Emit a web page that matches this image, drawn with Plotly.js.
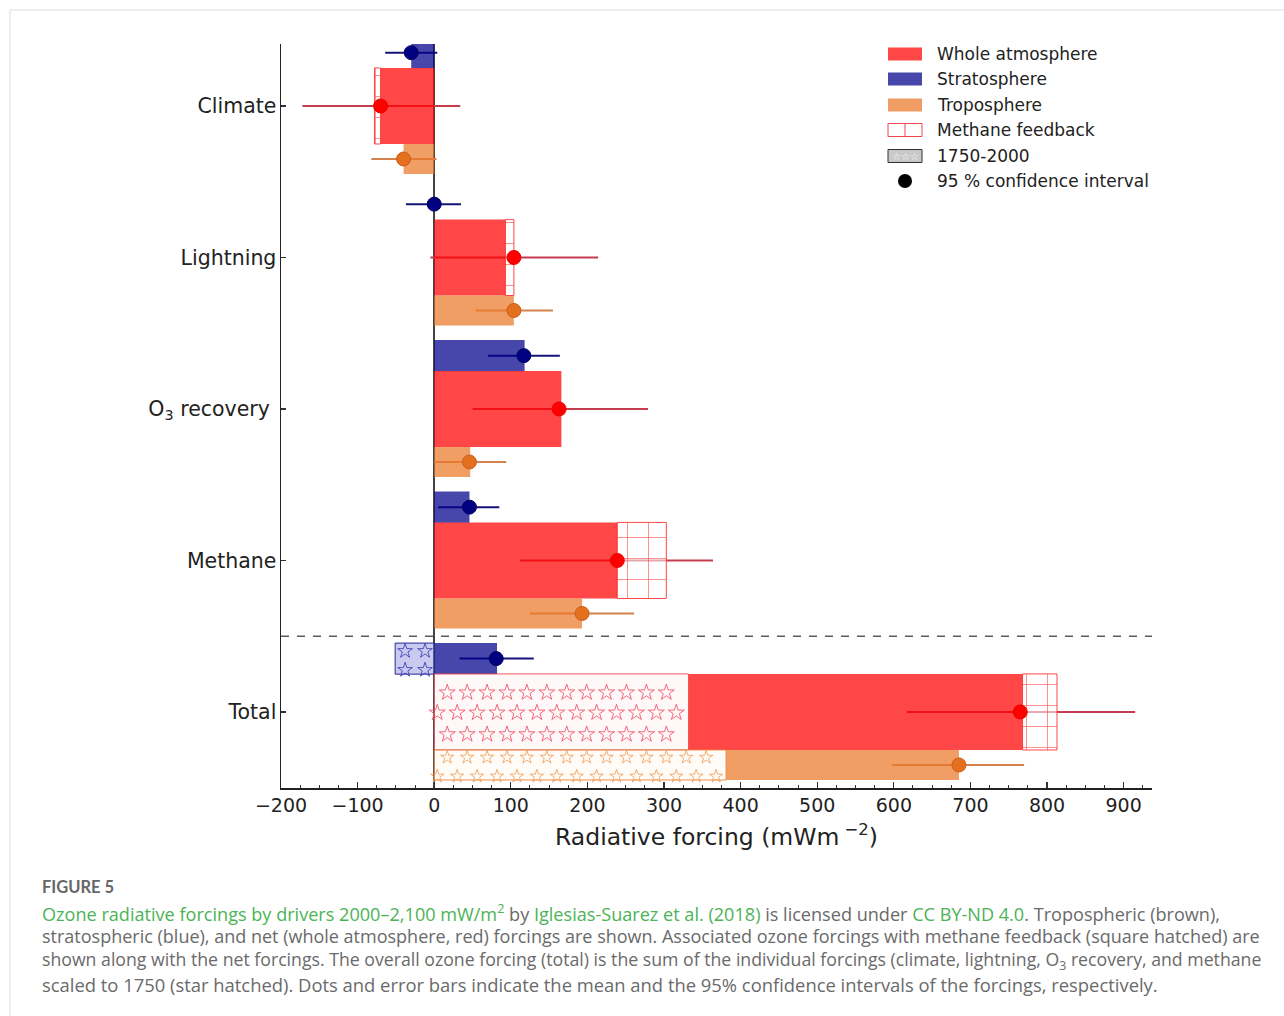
<!DOCTYPE html>
<html>
<head>
<meta charset="utf-8">
<script src="https://cdn.plot.ly/plotly-3.0.1.min.js"></script>
<style>html,body{margin:0;padding:0;background:#fff;}#chart{width:1284px;height:1016px;}</style>
</head>
<body>
<div id="chart"></div>
<script>
// ---------- data (mWm-2) ----------
const categories = ['Climate', 'Lightning', 'O<sub>3</sub> recovery ', 'Methane', 'Total'];
// Stratosphere
const stratBar  = [-30, 0, 118, 46, 82];
const stratMean = [-30, 0, 117, 46, 81];
const stratLo   = [-64, -37, 70, 5, 33];
const stratHi   = [4, 35, 164, 85, 130];
// Whole atmosphere
const wholeBar  = [-70, 93, 166, 239, 436];
const methaneFb = [-8, 11, 0, 64, 45];
const wholeMean = [-70, 104, 163, 239, 765];
const wholeLo   = [-172, -5, 50, 112, 617];
const wholeHi   = [34, 214, 279, 364, 915];
// Troposphere
const tropoBar  = [-40, 104, 47, 193, 304];
const tropoMean = [-40, 104, 46, 193, 685];
const tropoLo   = [-82, 54, 0, 125, 598];
const tropoHi   = [3, 155, 94, 261, 770];
// 1750-2000 (star hatched, only for Total)
const histStrat = [0, 0, 0, 0, -51];
const histWhole = [0, 0, 0, 0, 332];
const histTropo = [0, 0, 0, 0, 381];
const xTickVals = [-200, -100, 0, 100, 200, 300, 400, 500, 600, 700, 800, 900];
const xTickText = ['\u2212200', '\u2212100', '0', '100', '200', '300', '400', '500', '600', '700', '800', '900'];

// ---------- layout constants ----------
const OFF_S = -0.352, OFF_T = 0.35;
const W_S = 0.205, W_W = 0.502, W_T = 0.198;
const YR = [4.502, -0.409];
const XR = [-200, 937];
const idx = categories.map((c, i) => i);
const yS = idx.map(i => i + OFF_S), yW = idx.slice(), yT = idx.map(i => i + OFF_T);

const C_RED = 'rgb(255,0,0)', C_BLUE = 'rgb(0,0,139)', C_OR = 'rgb(235,120,40)';
const BAR_OP = 0.72;

const traces = [];
// ----- layer 1: error lines (below bars) -----
function errTrace(y, mean, lo, hi, color) {
  return {
    type: 'scatter', mode: 'markers', x: mean, y: y, xaxis: 'x', yaxis: 'y',
    marker: {size: 1, color: 'rgba(0,0,0,0)'},
    error_x: {type: 'data', symmetric: false,
      array: mean.map((m, i) => hi[i] - m), arrayminus: mean.map((m, i) => m - lo[i]),
      color: color, thickness: 2, width: 0},
    showlegend: false, hoverinfo: 'skip'
  };
}
traces.push(errTrace(yS, stratMean, stratLo, stratHi, 'rgb(20,20,120)'));
traces.push(errTrace(yW, wholeMean, wholeLo, wholeHi, 'rgb(200,60,80)'));
traces.push(errTrace(yT, tropoMean, tropoLo, tropoHi, 'rgb(212,130,75)'));

// ----- layer 2: bars -----
const baseS = histStrat.map(v => Math.max(v, 0));
const baseW = histWhole.map(v => Math.max(v, 0));
const baseT = histTropo.map(v => Math.max(v, 0));
function barTrace(y, x, base, width, marker) {
  return {type: 'bar', orientation: 'h', x: x, y: y, base: base, width: width,
    xaxis: 'x', yaxis: 'y2', marker: marker, showlegend: false, hoverinfo: 'skip'};
}
traces.push(barTrace(yS, stratBar, baseS, W_S, {color: C_BLUE, opacity: BAR_OP, line: {width: 0}}));
traces.push(barTrace(yW, wholeBar, baseW, W_W, {color: C_RED, opacity: BAR_OP, line: {width: 0}}));
traces.push(barTrace(yT, tropoBar, baseT, W_T, {color: C_OR, opacity: BAR_OP, line: {width: 0}}));
// methane feedback (square hatched)
const fbIdx = idx.filter(i => methaneFb[i] !== 0);
traces.push(barTrace(fbIdx.map(i => yW[i]), fbIdx.map(i => methaneFb[i]),
  fbIdx.map(i => baseW[i] + wholeBar[i]), W_W,
  {color: 'rgba(255,255,255,0.55)', line: {color: 'rgba(255,40,40,0.85)', width: 1},
   pattern: {shape: '+', fgcolor: 'rgba(255,40,40,0.8)', bgcolor: 'rgba(255,255,255,0.55)', size: 21, solidity: 0.06}}));
// 1750-2000 (star hatched) bars
function histBar(y, hist, width, fill, line) {
  const k = idx.filter(i => hist[i] !== 0);
  return barTrace(k.map(i => y[i]), k.map(i => hist[i]), k.map(() => 0), width,
    {color: fill, line: {color: line, width: 1}});
}
traces.push(histBar(yS, histStrat, W_S, 'rgba(150,150,225,0.5)', 'rgb(40,40,150)'));
traces.push(histBar(yW, histWhole, W_W, 'rgba(255,240,240,0.45)', 'rgba(240,70,80,0.9)'));
traces.push(histBar(yT, histTropo, W_T, 'rgba(255,248,240,0.45)', 'rgba(235,130,60,0.9)'));

// ----- layer 3: star hatch decoration and mean dots -----
function starGrid(hist, y, rowOffsets, dx, start, shift) {
  const xs = [], ys = [];
  idx.forEach(i => {
    if (hist[i] === 0) return;
    const lo = Math.min(0, hist[i]), hi = Math.max(0, hist[i]);
    rowOffsets.forEach((o, r) => {
      for (let x = lo + start + (r % 2 ? shift : 0); x <= hi - dx * 0.3; x += dx) {
        xs.push(x); ys.push(y[i] + o);
      }
    });
  });
  return {xs, ys};
}
function starTrace(g, size, color) {
  return {type: 'scatter', mode: 'markers', x: g.xs, y: g.ys, xaxis: 'x', yaxis: 'y3',
    marker: {symbol: 'star-open', size: size, color: color, line: {width: 1, color: color}},
    showlegend: false, hoverinfo: 'skip'};
}
traces.push(starTrace(starGrid(histWhole, yW, [-0.128, 0.005, 0.148], 26, 17, -13), 12, 'rgba(240,80,100,0.85)'));
traces.push(starTrace(starGrid(histTropo, yT, [-0.05, 0.075], 26, 17, -13), 10, 'rgba(240,160,90,0.85)'));
traces.push(starTrace(starGrid(histStrat, yS, [-0.05, 0.075], 26, 13, 0), 11, 'rgba(60,60,180,0.85)'));

function dotTrace(y, mean, color, lineColor) {
  return {type: 'scatter', mode: 'markers', x: mean, y: y, xaxis: 'x', yaxis: 'y3',
    marker: {size: 14, color: color, line: {width: 1, color: lineColor}},
    showlegend: false, hoverinfo: 'skip'};
}
traces.push(dotTrace(yS, stratMean, 'rgb(0,0,128)', 'rgb(0,0,100)'));
traces.push(dotTrace(yW, wholeMean, 'rgb(255,0,0)', 'rgb(235,0,0)'));
traces.push(dotTrace(yT, tropoMean, 'rgb(228,112,30)', 'rgb(200,95,30)'));

// ---------- helpers for paper positions ----------
const L = 281, R = 1152, T = 44, B = 788;
const px = p => (p - L) / (R - L);
const py = p => (B - p) / (B - T);

const shapes = [
  // dashed separator between Methane and Total
  {type: 'line', xref: 'paper', yref: 'y', x0: 0, x1: 1, y0: 3.5, y1: 3.5,
   line: {color: 'rgb(90,90,90)', width: 1.5, dash: '8px,8px'}},
  // frame of the figure card
  {type: 'line', xref: 'paper', yref: 'paper', x0: px(10), x1: px(1284), y0: py(10), y1: py(10),
   line: {color: '#dddddd', width: 1}},
  {type: 'line', xref: 'paper', yref: 'paper', x0: px(10), x1: px(10), y0: py(10), y1: py(1016),
   line: {color: '#dddddd', width: 1}}
];
// legend swatches
const legRows = [54, 79, 105, 130, 156, 181];
const legText = ['Whole atmosphere', 'Stratosphere', 'Troposphere', 'Methane feedback', '1750-2000', '95 % confidence interval'];
function swatch(row, fill, line) {
  return {type: 'rect', xref: 'paper', yref: 'paper', x0: px(888), x1: px(922),
    y0: py(legRows[row] - 6.5), y1: py(legRows[row] + 6.5),
    fillcolor: fill, line: line || {width: 0}};
}
shapes.push(swatch(0, 'rgb(255,71,71)'));
shapes.push(swatch(1, 'rgb(71,71,171)'));
shapes.push(swatch(2, 'rgb(240,157,100)'));
shapes.push(swatch(3, 'white', {color: 'rgb(240,70,80)', width: 1}));
shapes.push({type: 'line', xref: 'paper', yref: 'paper', x0: px(905), x1: px(905),
  y0: py(legRows[3] - 6.5), y1: py(legRows[3] + 6.5), line: {color: 'rgb(240,70,80)', width: 1}});
shapes.push(swatch(4, 'rgb(200,200,200)', {color: 'rgb(50,50,50)', width: 1}));
shapes.push({type: 'circle', xref: 'paper', yref: 'paper', x0: px(898), x1: px(912),
  y0: py(legRows[5] - 7), y1: py(legRows[5] + 7), fillcolor: 'black', line: {width: 0}});

const annotations = legText.map((t, i) => ({
  xref: 'paper', yref: 'paper', x: px(935), y: py(legRows[i]), xanchor: 'left', yanchor: 'middle',
  text: t, showarrow: false, font: {family: 'DejaVu Sans', size: 17, color: '#222'}
}));
annotations.push({xref: 'paper', yref: 'paper', x: px(905), y: py(legRows[4]), xanchor: 'center', yanchor: 'middle',
  text: '\u2606\u2606\u2606', showarrow: false, font: {family: 'DejaVu Sans', size: 10, color: '#fff'}});

// caption
const G = '<span style="color:#4cb356">';
const capLines = [
  G + 'Ozone radiative forcings by drivers 2000\u20132,100 mW/m<sup>2</sup></span> by ' + G + 'Iglesias-Suarez et al. (2018)</span> is licensed under ' + G + 'CC BY-ND 4.0</span>. Tropospheric (brown),',
  'stratospheric (blue), and net (whole atmosphere, red) forcings are shown. Associated ozone forcings with methane feedback (square hatched) are',
  'shown along with the net forcings. The overall ozone forcing (total) is the sum of the individual forcings (climate, lightning, O<sub>3</sub> recovery, and methane',
  'scaled to 1750 (star hatched). Dots and error bars indicate the mean and the 95% confidence intervals of the forcings, respectively.'
];
const capSizes = [18.1, 18.0, 17.7, 18.4];
annotations.push({xref: 'paper', yref: 'paper', x: px(40), y: py(887), xanchor: 'left', yanchor: 'middle',
  text: 'FIGURE 5', showarrow: false, font: {family: 'Lato', size: 16.5, color: '#666', weight: 'bold'}});
capLines.forEach((t, i) => annotations.push({
  xref: 'paper', yref: 'paper', x: px(40), y: py(912 + 24 * i), xanchor: 'left', yanchor: 'middle',
  text: t, showarrow: false, align: 'left', font: {family: 'Open Sans', size: capSizes[i], color: '#6a6a6a'}
}));

const layout = {
  width: 1284, height: 1016,
  margin: {l: L, r: 1284 - R, t: T, b: 1016 - B, pad: 0},
  paper_bgcolor: 'white', plot_bgcolor: 'rgba(0,0,0,0)',
  barmode: 'overlay', showlegend: false,
  font: {family: 'DejaVu Sans', color: '#222'},
  xaxis: {range: XR, autorange: false, tickvals: xTickVals, ticktext: xTickText,
    ticks: 'inside', ticklen: 6, tickwidth: 1.2, tickcolor: '#333',
    minor: {dtick: 25, tick0: 0, ticks: 'inside', ticklen: 3, tickwidth: 1, tickcolor: '#333', showgrid: false},
    showgrid: false, zeroline: true, zerolinecolor: '#444', zerolinewidth: 1.5,
    showline: true, linecolor: '#222', linewidth: 1.5,
    tickfont: {family: 'DejaVu Sans', size: 19, color: '#222'},
    title: {text: 'Radiative forcing (mWm<sup> \u22122</sup>)', font: {family: 'DejaVu Sans', size: 23.5, color: '#222'}, standoff: 13}},
  yaxis: {range: YR, autorange: false, tickvals: idx, ticktext: categories,
    ticks: 'inside', ticklen: 5, tickwidth: 1.2, tickcolor: '#333',
    showgrid: false, zeroline: false, showline: true, linecolor: '#222', linewidth: 1.5,
    tickfont: {family: 'DejaVu Sans', size: 20.5, color: '#222'}, ticklabelstandoff: -1},
  yaxis2: {range: YR, autorange: false, overlaying: 'y', visible: false, showgrid: false, zeroline: false},
  yaxis3: {range: YR, autorange: false, overlaying: 'y', visible: false, showgrid: false, zeroline: false},
  shapes: shapes, annotations: annotations
};

Plotly.newPlot('chart', traces, layout, {displayModeBar: false, staticPlot: true});
</script>
</body>
</html>
